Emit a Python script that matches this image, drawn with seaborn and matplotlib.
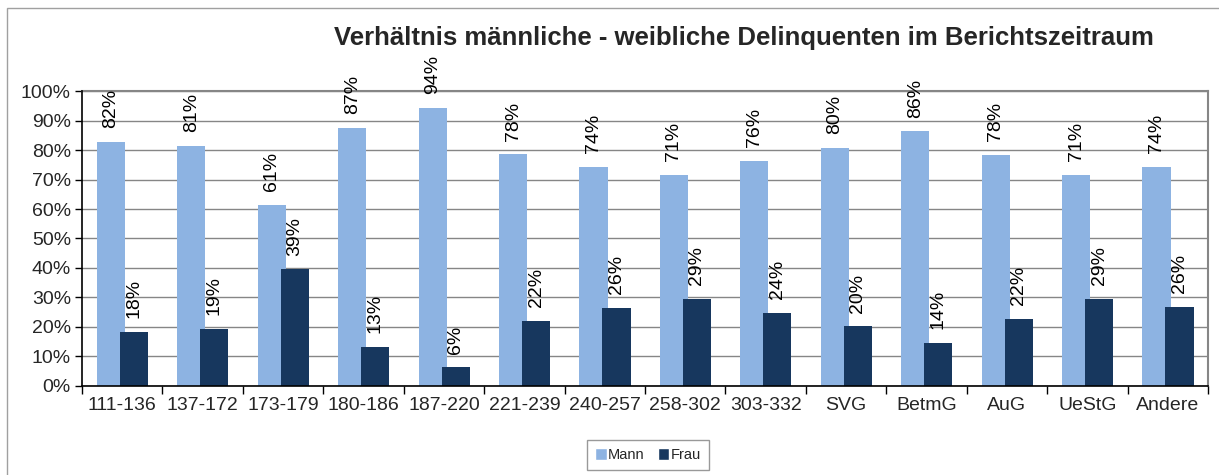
import numpy as np
import pandas as pd
import matplotlib.pyplot as plt
import seaborn as sns
from matplotlib.patches import Rectangle
from matplotlib.ticker import MultipleLocator, FixedLocator, PercentFormatter

# Anteile in Prozent
categories = ['111-136', '137-172', '173-179', '180-186', '187-220', '221-239', '240-257',
              '258-302', '303-332', 'SVG', 'BetmG', 'AuG', 'UeStG', 'Andere']
mann = [82.6, 81.5, 61.5, 87.6, 94.3, 78.5, 74.3, 71.5, 76.3, 80.6, 86.3, 78.2, 71.6, 74.3]
frau = [18.4, 19.4, 39.5, 13.1, 6.3, 22.2, 26.6, 29.6, 24.8, 20.2, 14.5, 22.8, 29.5, 26.8]
series = ['Mann', 'Frau']
colors = ['#8DB3E2', '#17375E']

df = pd.DataFrame({
    'Gruppe': categories * 2,
    'Anteil': mann + frau,
    'Geschlecht': ['Mann'] * len(categories) + ['Frau'] * len(categories),
})

sns.set_theme(style='white')
plt.rcParams['font.family'] = ['Liberation Sans', 'DejaVu Sans']

fig = plt.figure(figsize=(12.19, 4.75), dpi=100)
ax = fig.add_axes([0.0673, 0.1874, 0.9237, 0.621])
sns.barplot(data=df, x='Gruppe', y='Anteil', hue='Geschlecht', hue_order=series,
            palette=colors, saturation=1, width=0.64, ax=ax)

# Balken leicht ueberlappend wie im Original
n = len(categories)
bars = ax.patches[:2 * n]
for i, p in enumerate(bars):
    j = i % n
    off = -0.14 if i < n else 0.145
    p.set_width(0.35)
    p.set_x(j + off - 0.175)
    p.set_edgecolor('none')
    p.set_zorder(2 + i // n)
    h = p.get_height()
    ax.annotate(f'{int(h)}%', (p.get_x() + p.get_width() / 2, h),
                xytext=(0, 10), textcoords='offset points', rotation=90,
                ha='center', va='bottom', fontsize=14, color='black')

handles, labels = ax.get_legend_handles_labels()
ax.get_legend().remove()

ax.set_xlim(-0.5, n - 0.5)
ax.set_ylim(0, 100)
ax.yaxis.set_major_locator(MultipleLocator(10))
ax.yaxis.set_major_formatter(PercentFormatter(decimals=0))
ax.xaxis.set_minor_locator(FixedLocator(np.arange(-0.5, n, 1)))
ax.tick_params(axis='y', which='major', left=True, length=5, width=1, color='black',
               labelsize=14, pad=3)
ax.tick_params(axis='x', which='major', length=0, labelsize=14, pad=8)
ax.tick_params(axis='x', which='minor', bottom=True, length=6, width=1, color='black')
ax.set_xlabel('')
ax.set_ylabel('')

ax.yaxis.grid(True, color='#868686', linewidth=1)
ax.set_axisbelow(True)
for s in ['top', 'right']:
    ax.spines[s].set_color('#868686')
    ax.spines[s].set_linewidth(1.5)
for s in ['left', 'bottom']:
    ax.spines[s].set_color('black')
    ax.spines[s].set_linewidth(1.2)
    ax.spines[s].set_zorder(5)

fig.text(744 / 1219, 1 - 38 / 475, 'Verhältnis männliche - weibliche Delinquenten im Berichtszeitraum',
         ha='center', va='center', fontsize=18.5, weight='bold')

fig.legend(handles, labels, loc='center', bbox_to_anchor=(648 / 1219, 1 - 455 / 475), ncol=2,
           frameon=True, fancybox=False, edgecolor='#808080', fontsize=10.5,
           handlelength=0.8, handleheight=0.8, handletextpad=0.1, columnspacing=0.9,
           borderpad=0.55)

# aeusserer Rahmen, rechts und unten abgeschnitten
fig.patches.append(Rectangle((7 / 1219, -0.05), 1.05, 1 - 8 / 475 + 0.05,
                             transform=fig.transFigure, fill=False,
                             edgecolor='#A0A0A0', linewidth=1))

fig.savefig('out.png', dpi=100)
